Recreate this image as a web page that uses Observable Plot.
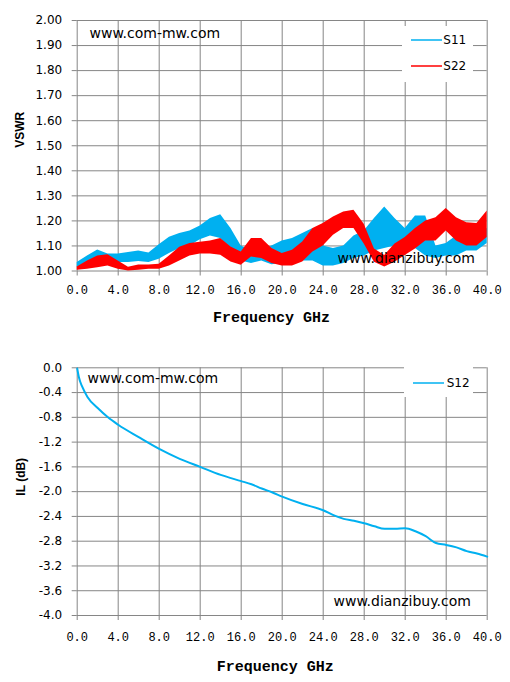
<!DOCTYPE html>
<html>
<head>
<meta charset="utf-8">
<script src="https://cdn.jsdelivr.net/npm/d3@7"></script>
<script src="https://cdn.jsdelivr.net/npm/@observablehq/plot@0.6"></script>
<style>
  body { margin: 0; background: #fff; }
  .panel { position: relative; width: 510px; }
  .legend { position: absolute; background: #fff; font-family: "DejaVu Sans", Verdana, sans-serif; font-size: 12px; color: #000; }
  .legend .row { position: absolute; left: 0; height: 14px; }
  .legend svg { position: absolute; top: 0; }
  .legend span { position: absolute; top: 0; line-height: 14px; white-space: nowrap; }
</style>
</head>
<body>
<div class="panel" id="topPanel"></div>
<div class="panel" id="bottomPanel"></div>
<script>
// ---------- data ----------
const freq = [0,1,2,3,4,5,6,7,8,9,10,11,12,13,14,15,16,17,18,19,20,21,22,23,24,25,26,27,28,29,30,31,32,33,34,35,36,37,38,39,40];
const s11Hi = [1.034,1.060,1.084,1.068,1.068,1.074,1.080,1.072,1.105,1.135,1.150,1.160,1.180,1.210,1.225,1.170,1.100,1.080,1.080,1.100,1.120,1.130,1.150,1.170,1.100,1.090,1.100,1.140,1.160,1.210,1.255,1.210,1.170,1.220,1.220,1.100,1.110,1.140,1.160,1.150,1.170];
const s11Lo = [1.014,1.027,1.040,1.040,1.034,1.034,1.038,1.034,1.047,1.070,1.090,1.100,1.125,1.140,1.130,1.090,1.040,1.030,1.040,1.025,1.030,1.040,1.040,1.040,1.020,1.020,1.030,1.050,1.060,1.080,1.090,1.100,1.080,1.090,1.060,1.050,1.060,1.060,1.080,1.080,1.110];
const s22Hi = [1.016,1.040,1.060,1.065,1.040,1.015,1.024,1.024,1.027,1.060,1.095,1.110,1.115,1.120,1.130,1.096,1.076,1.130,1.130,1.090,1.070,1.083,1.116,1.170,1.190,1.216,1.236,1.243,1.187,1.088,1.062,1.108,1.134,1.170,1.200,1.213,1.250,1.213,1.193,1.190,1.240];
const s22Lo = [1.003,1.007,1.013,1.020,1.007,1.000,1.003,1.007,1.007,1.020,1.040,1.060,1.068,1.068,1.063,1.036,1.023,1.056,1.050,1.030,1.020,1.020,1.036,1.076,1.100,1.143,1.170,1.170,1.108,1.035,1.016,1.035,1.062,1.088,1.120,1.120,1.160,1.120,1.100,1.100,1.134];

const s12Freq = [0,0.16,0.5,1,2,3,4,6,8,10,12,14,16,17,18,19,20,22,24,25,26,27,28,29,30,31,32,33,34,35,36,37,38,39,40];
const s12Loss = [-0.01,-0.15,-0.31,-0.47,-0.65,-0.80,-0.92,-1.12,-1.31,-1.47,-1.60,-1.73,-1.83,-1.88,-1.95,-2.01,-2.08,-2.20,-2.30,-2.38,-2.44,-2.47,-2.51,-2.56,-2.60,-2.60,-2.59,-2.64,-2.72,-2.83,-2.86,-2.90,-2.96,-3.00,-3.05];

const xTicks = [0,4,8,12,16,20,24,28,32,36,40];
const vswrTicks = [1.0,1.1,1.2,1.3,1.4,1.5,1.6,1.7,1.8,1.9,2.0];
const ilTicks = [0,-0.4,-0.8,-1.2,-1.6,-2.0,-2.4,-2.8,-3.2,-3.6,-4.0];

const seriesNames = ["S11","S22"];
const seriesColors = ["#00B0F0","#FF0000"];
const s12Name = "S12";
const s12Color = "#00B0F0";

const vswrRows = freq.map((f,i) => ({f, s11Lo: s11Lo[i], s11Hi: s11Hi[i], s22Lo: s22Lo[i], s22Hi: s22Hi[i]}));
const ilRows = s12Freq.map((f,i) => ({f, v: s12Loss[i]}));

const GRID = "#868686";
const tickFontY = {fontFamily: "DejaVu Sans, Verdana, sans-serif", fontSize: 12, fill: "#000"};
const tickFontX = {fontFamily: "Liberation Mono, monospace", fontSize: 12, fill: "#000"};
const titleFont = {fontFamily: "Liberation Mono, monospace", fontSize: 15, fontWeight: "bold", fill: "#000"};
const yTitleFont = {fontFamily: "Liberation Sans, Arial, sans-serif", fontSize: 12, fontWeight: "bold", fill: "#000"};
const wmFont = {fontFamily: "DejaVu Sans, Verdana, sans-serif", fontSize: 14, fill: "#000"};

// ---------- top chart ----------
const vswrChart = Plot.plot({
  width: 510, height: 345,
  marginTop: 20, marginBottom: 74.5, marginLeft: 76.7, marginRight: 23.3,
  style: {background: "#fff", overflow: "visible"},
  x: {domain: [0, 40]},
  y: {domain: [1, 2]},
  marks: [
    Plot.gridX(xTicks, {stroke: GRID, strokeOpacity: 1, strokeWidth: 1}),
    Plot.gridY(vswrTicks, {stroke: GRID, strokeOpacity: 1, strokeWidth: 1}),
    Plot.areaY(vswrRows, {x: "f", y1: "s11Lo", y2: "s11Hi", fill: seriesColors[0]}),
    Plot.areaY(vswrRows, {x: "f", y1: "s22Lo", y2: "s22Hi", fill: seriesColors[1]}),
    Plot.axisX({ticks: xTicks, tickSize: 5, tickPadding: 9.5, stroke: GRID, tickFormat: d => d.toFixed(1), label: null, ...tickFontX, letterSpacing: "-0.6px"}),
    Plot.axisY({ticks: vswrTicks, tickSize: 5, tickPadding: 10, stroke: GRID, tickFormat: d => d.toFixed(2), label: null, ...tickFontY}),
    Plot.text(["Frequency GHz"], {frameAnchor: "bottom", dx: -10.7, dy: 46, lineAnchor: "middle", ...titleFont}),
    Plot.text(["VSWR"], {frameAnchor: "left", dx: -56.7, dy: 2, rotate: -90, lineAnchor: "middle", ...yTitleFont}),
    Plot.text(["www.com-mw.com"], {frameAnchor: "top-left", dx: 12.3, dy: 13, textAnchor: "start", lineAnchor: "middle", ...wmFont}),
    Plot.text(["www.dianzibuy.com"], {frameAnchor: "bottom-left", dx: 260.3, dy: -12.5, textAnchor: "start", lineAnchor: "middle", ...wmFont})
  ]
});
document.getElementById("topPanel").appendChild(vswrChart);

// ---------- bottom chart ----------
const ilChart = Plot.plot({
  width: 510, height: 337,
  marginTop: 22.3, marginBottom: 67, marginLeft: 76.7, marginRight: 23.3,
  style: {background: "#fff", overflow: "visible"},
  x: {domain: [0, 40]},
  y: {domain: [-4, 0]},
  marks: [
    Plot.gridX(xTicks, {stroke: GRID, strokeOpacity: 1, strokeWidth: 1}),
    Plot.gridY(ilTicks, {stroke: GRID, strokeOpacity: 1, strokeWidth: 1}),
    Plot.lineY(ilRows, {x: "f", y: "v", stroke: s12Color, strokeWidth: 2, curve: "monotone-x"}),
    Plot.axisX({ticks: xTicks, tickSize: 5, tickPadding: 11.7, stroke: GRID, tickFormat: d => d.toFixed(1), label: null, ...tickFontX, letterSpacing: "-0.6px"}),
    Plot.axisY({ticks: ilTicks, tickSize: 5, tickPadding: 10, stroke: GRID, tickFormat: d => d.toFixed(1), label: null, ...tickFontY}),
    Plot.text(["Frequency GHz"], {frameAnchor: "bottom", dx: -7, dy: 51, lineAnchor: "middle", ...titleFont}),
    Plot.text(["IL (dB)"], {frameAnchor: "left", dx: -56, dy: 4, rotate: -90, lineAnchor: "middle", ...yTitleFont}),
    Plot.text(["www.com-mw.com"], {frameAnchor: "top-left", dx: 10.3, dy: 10.7, textAnchor: "start", lineAnchor: "middle", ...wmFont}),
    Plot.text(["www.dianzibuy.com"], {frameAnchor: "bottom-left", dx: 256.3, dy: -13.5, textAnchor: "start", lineAnchor: "middle", ...wmFont})
  ]
});
document.getElementById("bottomPanel").appendChild(ilChart);

// ---------- legends (HTML overlays) ----------
function legend(container, box, items) {
  const div = document.createElement("div");
  div.className = "legend";
  Object.assign(div.style, {left: box.left + "px", top: box.top + "px", width: box.width + "px", height: box.height + "px"});
  items.forEach((it, i) => {
    const row = document.createElement("div");
    row.className = "row";
    row.style.top = (box.rowTop + i * box.rowGap) + "px";
    row.style.width = box.width + "px";
    row.innerHTML = `<svg width="34" height="14" style="left:${box.lineLeft}px"><line x1="0" x2="31" y1="7" y2="7" stroke="${it.color}" stroke-width="1.5"/></svg><span style="left:${box.textLeft}px">${it.name}</span>`;
    div.appendChild(row);
  });
  container.appendChild(div);
}
legend(document.getElementById("topPanel"),
  {left: 402, top: 26, width: 71, height: 56, rowTop: 6.5, rowGap: 26.7, lineLeft: 9, textLeft: 41.3},
  seriesNames.map((n, i) => ({name: n, color: seriesColors[i]})));
legend(document.getElementById("bottomPanel"),
  {left: 404, top: 22, width: 69, height: 30, rowTop: 9, rowGap: 0, lineLeft: 9, textLeft: 42.7},
  [{name: s12Name, color: s12Color}]);
</script>
</body>
</html>
